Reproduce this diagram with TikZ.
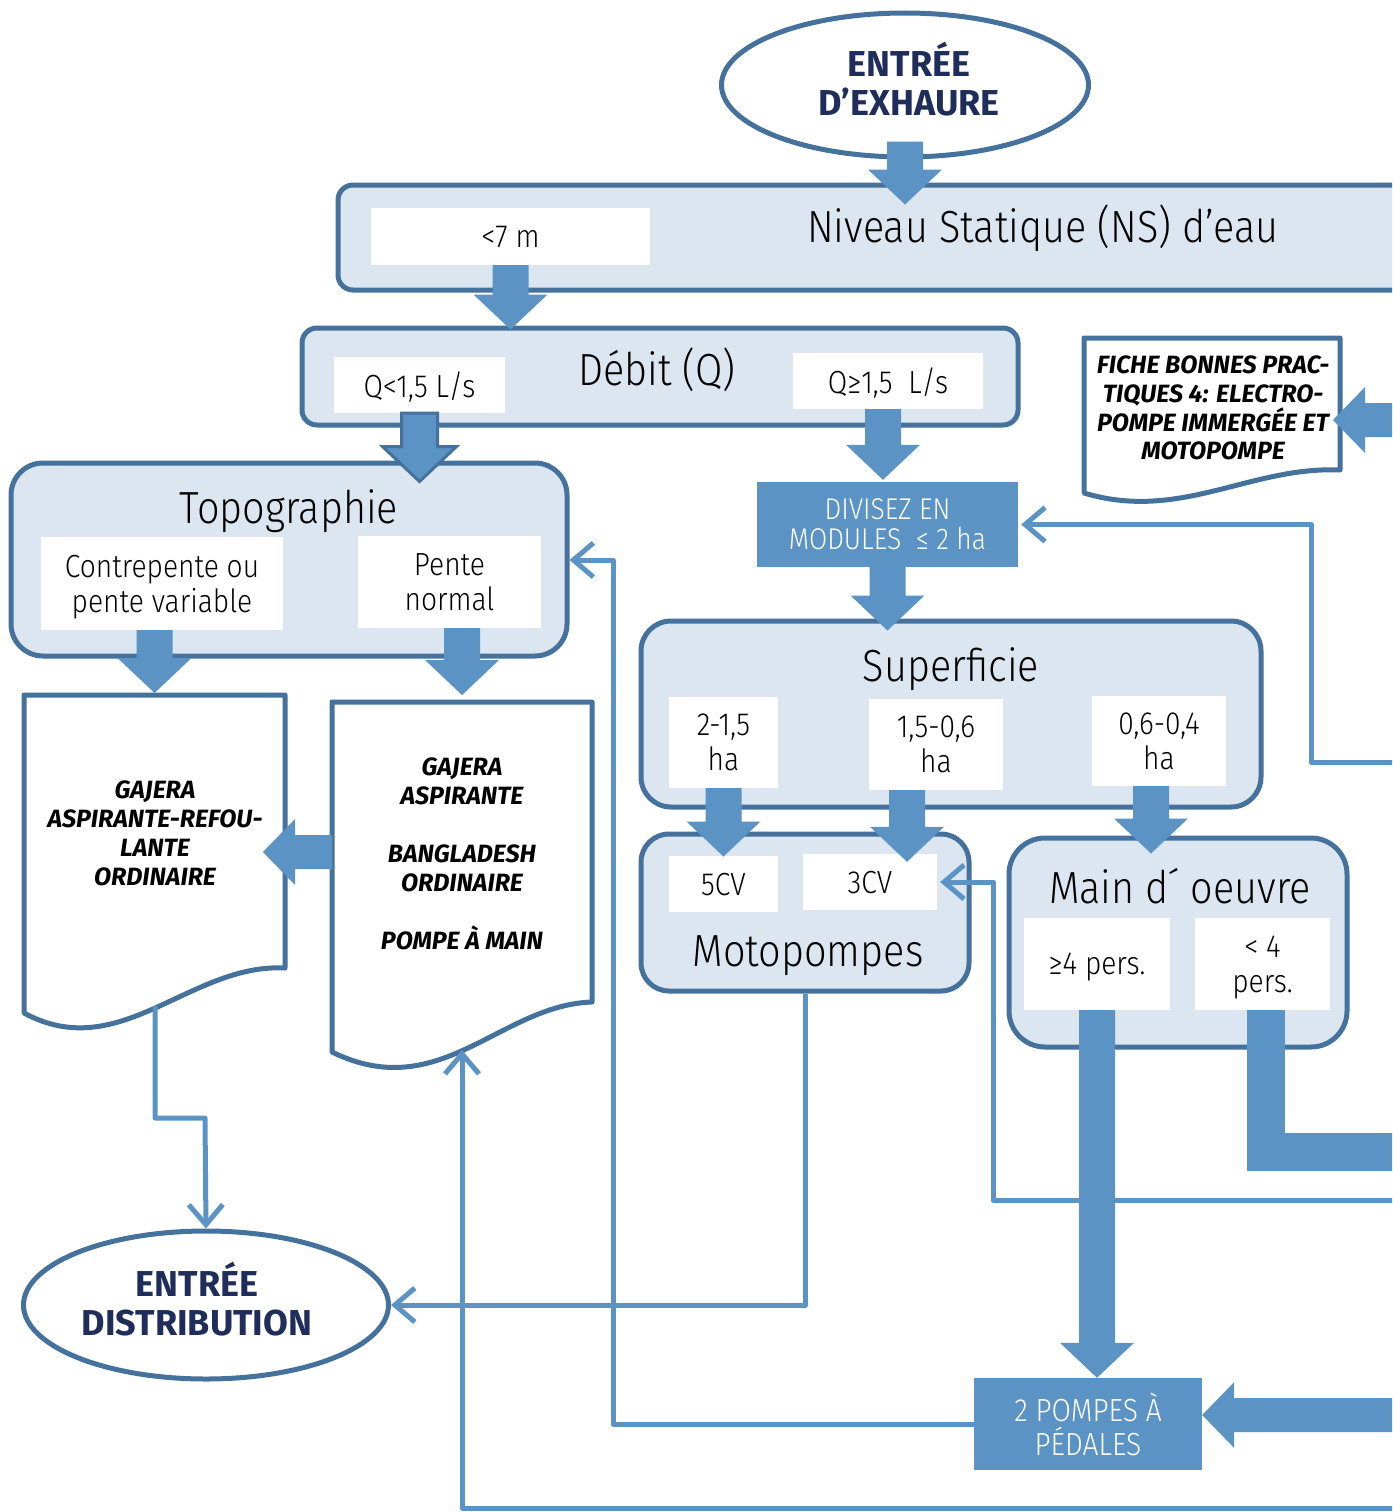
\documentclass[tikz,border=0pt]{standalone}
\usepackage{fontspec}
\setmainfont{Fira Sans Light}[FakeStretch=0.88]
\newfontfamily\hv{Fira Sans}
\usetikzlibrary{shapes.geometric,arrows.meta,calc}
\definecolor{bord}{HTML}{44729D}
\definecolor{lfill}{HTML}{DCE6F1}
\definecolor{afill}{HTML}{5B93C5}
\definecolor{navy}{HTML}{1F2D5A}
% block arrow pointing down: start point #2, tip y taken from #3
\newcommand\bdown[3][]{\fill[afill,#1] let \p1=#2, \p2=#3 in
  (\x1-18pt,\y1) -- (\x1+18pt,\y1) -- (\x1+18pt,\y2+35pt) -- (\x1+37pt,\y2+35pt)
  -- (\x1,\y2) -- (\x1-37pt,\y2+35pt) -- (\x1-18pt,\y2+35pt) -- cycle;}
% block arrow pointing left: start point #2, tip x taken from #3
\newcommand\bleft[3][]{\fill[afill,#1] let \p1=#2, \p2=#3 in
  (\x1,\y1+17pt) -- (\x2+32pt,\y1+17pt) -- (\x2+32pt,\y1+33pt) -- (\x2,\y1)
  -- (\x2+32pt,\y1-33pt) -- (\x2+32pt,\y1-17pt) -- (\x1,\y1-17pt) -- cycle;}
\tikzset{
  bbox/.style={draw=bord, line width=5pt, fill=lfill, inner sep=0},
  wbox/.style={fill=white, inner sep=0, align=center, text depth=0pt, font=\fontsize{32}{35}\selectfont},
  fbox/.style={fill=afill, inner sep=0, align=center, text=white, font=\fontsize{30}{30}\selectfont},
  ttl/.style={inner sep=0, font=\fontsize{45}{50}\selectfont},
  oval/.style={ellipse, draw=bord, line width=5pt, fill=white, inner sep=0},
  ovaltxt/.style={inner sep=0, align=center, text=navy, font=\hv\bfseries\fontsize{36}{39}\selectfont},
  docline/.style={draw=bord, line width=5pt, fill=white, line join=round},
  doctxt/.style={inner sep=0, align=center, font=\hv\bfseries\itshape\fontsize{25}{29}\selectfont},
  thinc/.style={draw=afill, line width=5pt, line join=round, -{Straight Barb[length=20pt,width=34pt]}},
  ghost/.style={inner sep=0, outer sep=0}
}
\begin{document}
\begin{tikzpicture}[x=1pt,y=-1pt]
\useasboundingbox (0,0) rectangle (1392,1512);
\clip (0,0) rectangle (1392,1512);

% ---- big boxes
\node[bbox, rounded corners=15, minimum width=1092, minimum height=105] (ns) at (884,237.5) {};
\node[bbox, rounded corners=15, minimum width=716, minimum height=97] (debit) at (660,376.5) {};
\node[bbox, rounded corners=32, minimum width=556, minimum height=193] (topo) at (289,559.5) {};
\node[bbox, rounded corners=30, minimum width=620, minimum height=186] (sup) at (951,714) {};
\node[bbox, rounded corners=28, minimum width=328, minimum height=157] (moto) at (805,912.5) {};
\node[bbox, rounded corners=36, minimum width=338, minimum height=209] (main) at (1178,942.5) {};

% ---- titles
\node[ttl] (nsT) at (1043,228) {Niveau Statique (NS) d’eau};
\node[ttl] (debT) at (657,370) {Débit (Q)};
\node[ttl] (topoT) at (289,511) {Topographie};
\node[ttl] (supT) at (951,669) {Superficie};
\node[ttl] (motoT) at (808,956) {Motopompes};
\node[ttl] (mainT) at (1180,886) {Main d´ oeuvre};

% ---- white boxes
\node[wbox, minimum width=279, minimum height=57] (lt7) at (510.5,236.5) {<7 m};
\node[wbox, minimum width=171, minimum height=56] (qlt) at (419.5,385) {Q<1,5 L/s};
\node[wbox, minimum width=190, minimum height=56] (qge) at (888,381) {Q≥1,5\ \ L/s};
\node[wbox, minimum width=242, minimum height=93] (contre) at (162,583.5) {Contrepente ou\\pente variable};
\node[wbox, minimum width=183, minimum height=92] (pente) at (449.5,582) {Pente\\normal};
\node[wbox, minimum width=109, minimum height=91] (s1) at (723.5,742.5) {2-1,5\\ha};
\node[wbox, minimum width=134, minimum height=91] (s2) at (936,744.5) {1,5-0,6\\ha};
\node[wbox, minimum width=134, minimum height=90] (s3) at (1159,741) {0,6-0,4\\ha};
\node[wbox, minimum width=109, minimum height=56] (cv5) at (723.5,884) {5CV};
\node[wbox, minimum width=134, minimum height=56] (cv3) at (870,882) {3CV};
\node[wbox, minimum width=146, minimum height=92] (ge4) at (1097,964) {≥4 pers.};
\node[wbox, minimum width=135, minimum height=92] (lt4) at (1262.5,964) {< 4\\pers.};

% ---- filled boxes
\node[fbox, minimum width=261, minimum height=85] (div) at (887.5,524.5) {DIVISEZ EN\\MODULES\ \ ≤ 2 ha};
\node[fbox, minimum width=228, minimum height=92, font=\fontsize{32}{34}\selectfont] (pompes) at (1088,1424) {2 POMPES À\\PÉDALES};

% ---- ovals
\node[oval, minimum width=367, minimum height=144] (ex) at (905,85) {};
\node[ovaltxt] (exT) at (909,79) {ENTRÉE\\D’EXHAURE};
\node[oval, minimum width=365, minimum height=148] (dist) at (206,1305) {};
\node[ovaltxt] (distT) at (197,1299) {ENTRÉE\\DISTRIBUTION};

% ---- document shapes
\node[ghost, minimum width=261, minimum height=273, anchor=north west] (d1) at (24,695) {};
\draw[docline] (24,695) -- (285,695) -- (285,968) .. controls (190,963) and (120,1065) .. (24,1013) -- cycle;
\node[doctxt] (d1T) at (155,833) {GAJERA\\ASPIRANTE-REFOU-\\LANTE\\ORDINAIRE};
\node[ghost, minimum width=260, minimum height=300, anchor=north west] (d2) at (332,702) {};
\draw[docline] (332,702) -- (592,702) -- (592,1002) .. controls (500,1005) and (440,1105) .. (332,1052) -- cycle;
\node[doctxt] (d2T) at (462,854) {GAJERA\\ASPIRANTE\\[29pt]BANGLADESH\\ORDINAIRE\\[29pt]POMPE À MAIN};
\node[ghost, minimum width=256, minimum height=132, anchor=north west] (fiche) at (1084,338) {};
\draw[docline] (1084,338) -- (1340,338) -- (1340,470) .. controls (1250,466) and (1180,522) .. (1084,493) -- cycle;
\node[doctxt, font=\hv\bfseries\itshape\fontsize{25}{28.7}\selectfont] (ficheT) at (1213,408) {FICHE BONNES PRAC-\\TIQUES 4: ELECTRO-\\POMPE IMMERGÉE ET\\MOTOPOMPE};

% ---- named points
\coordinate (d1b) at (155,1006);
\coordinate (d2b) at (462,1050);
\coordinate (rFiche) at (1420,420);
\coordinate (rPomp) at (1420,1415);
\coordinate (rb1) at (1420,1508);
\coordinate (rb2) at (1420,1200);
\coordinate (rb3) at (1420,762);
\coordinate (rThick) at (1420,1152);
\coordinate (c1) at (613,560);
\coordinate (k1) at (205,1118);

% ---- thin connectors
\draw[thinc] (d1b) |- (k1) -- (dist.north);
\draw[thinc] (moto.south) |- (dist.east);
\draw[thinc] (pompes.west) -| (c1) -- (topo.east |- c1);
\draw[thinc] (rb1) -| (d2b);
\draw[thinc] (rb2) -| ($(cv3.east)+(56,0)$) -- ($(cv3.east)+(3,0)$);
\draw[thinc] (rb3) -| ($(div.east)+(293,0)$) -- ($(div.east)+(3,0)$);

% ---- thick connectors
\draw[afill, line width=38pt] ($(lt4.south)+(3,0)$) |- (rThick);
\bdown{($(ex.south)+(0,-18)$)}{($(ns.north)+(0,22)$)}
\bdown{(lt7.south)}{($(debit.north)+(0,4)$)}
\bdown[draw=bord, line width=3pt]{(qlt.south)}{($(topo.north)+(0,21)$)}
\bdown{($(qge.south)+(-5,0)$)}{($(div.north)+(0,-2)$)}
\bdown{(contre.south -| d1.north)}{($(d1.north)+(0,-2)$)}
\bdown{(pente.south -| d2.north)}{($(d2.north)+(0,-7)$)}
\bdown{(div.south)}{($(sup.north)+(0,12)$)}
\bdown{(s1.south)}{($(moto.north)+(0,25)$)}
\bdown{($(s2.south)+(-29,0)$)}{($(cv3.north)+(0,8)$)}
\bdown{($(s3.south)+(-8,0)$)}{($(main.north)+(0,18)$)}
\bdown{(ge4.south)}{(pompes.north)}
\bleft{(d2.west)}{($(d1.east)+(-22,0)$)}
\bleft{(rFiche)}{($(fiche.east)+(-7,0)$)}
\bleft{(rPomp)}{(pompes.east)}
\end{tikzpicture}
\end{document}
